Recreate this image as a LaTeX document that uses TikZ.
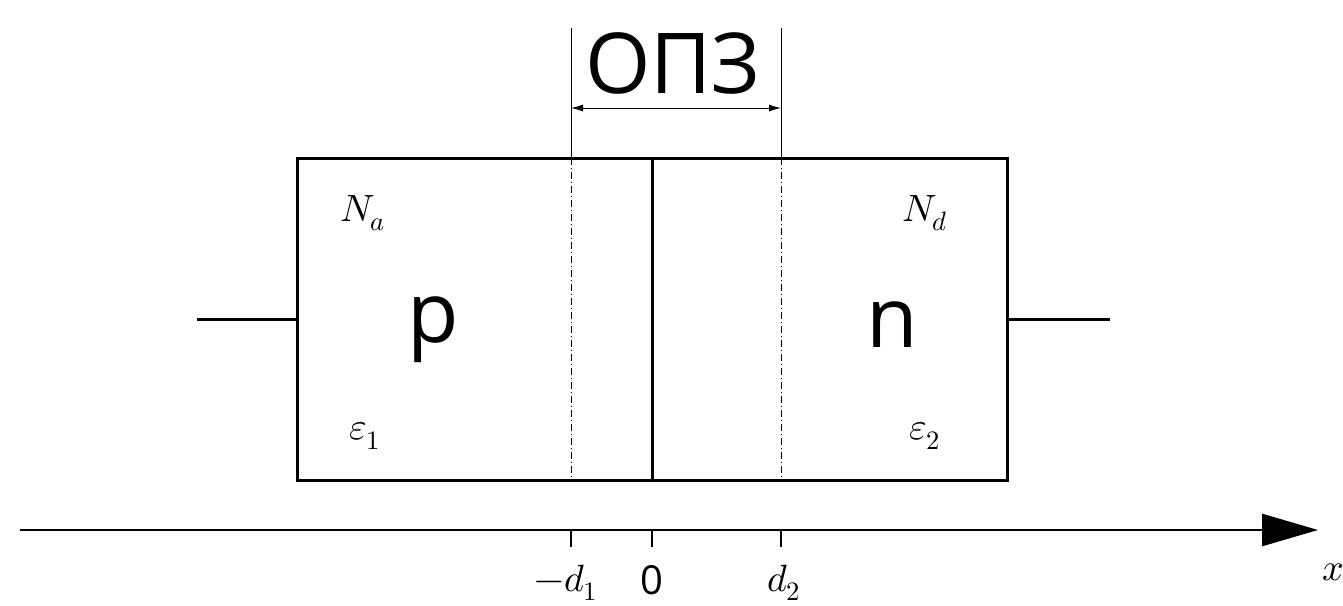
\documentclass[tikz,border=0pt]{standalone}
\usepackage{fontspec}
\usepackage{unicode-math}
\setsansfont{Open Sans}
\usetikzlibrary{arrows.meta}
\tikzset{
  thick line/.style={line width=3pt},
  thin line/.style={line width=0.9pt},
  dashdot line/.style={line width=0.8pt, dash pattern=on 7pt off 3pt on 1pt off 3pt},
  big label/.style={font=\sffamily\fontsize{84}{90}\selectfont, inner sep=0pt},
  math label/.style={font=\fontsize{38}{44}\selectfont, inner sep=0pt},
  axis label/.style={font=\fontsize{38}{44}\selectfont, inner sep=0pt, anchor=base},
}
\begin{document}
\begin{tikzpicture}[x=1pt,y=-1pt]
\useasboundingbox (0,0) rectangle (1343,605);
% box corners
\coordinate (TL) at (297,158);
\coordinate (TR) at (1007,158);
\coordinate (BL) at (297,480);
\coordinate (BR) at (1007,480);
\coordinate (MT) at (652,158);
\coordinate (MB) at (652,480);
\draw[thick line] (TL) rectangle (BR);
\draw[thick line] (MT) -- (MB);
% leads
\coordinate (LL) at (197,319);
\coordinate (LR) at (297,319);
\coordinate (RL) at (1007,319);
\coordinate (RR) at (1110,319);
\draw[thick line] (LL) -- (LR);
\draw[thick line] (RL) -- (RR);
% depletion boundaries
\coordinate (D1T) at (571,28);
\coordinate (D1B) at (571,158);
\coordinate (D2T) at (781,28);
\coordinate (D2B) at (781,158);
\coordinate (D1E) at (571,480);
\coordinate (D2E) at (781,480);
\draw[thin line] (D1T) -- (D1B);
\draw[thin line] (D2T) -- (D2B);
\draw[dashdot line] (D1B) -- (D1E);
\draw[dashdot line] (D2B) -- (D2E);
\coordinate (A1) at (571,108);
\coordinate (A2) at (781,108);
\draw[thin line, {Latex[length=12pt,width=7pt]}-{Latex[length=12pt,width=7pt]}] (A1) -- (A2);
\node[big label] (opz) at (673,63) {ОПЗ};
% labels in box
\node[big label] (p) at (433,330) {p};
\node[big label] (n) at (892,325) {n};
\node[math label] (Na) at (363,213) {$N_a$};
\node[math label] (Nd) at (925,213) {$N_d$};
\node[math label] (e1) at (365,436) {$\varepsilon_1$};
\node[math label] (e2) at (925,436) {$\varepsilon_2$};
% axis
\coordinate (X0) at (20,530);
\coordinate (X1) at (1318,530);
\draw[line width=2.8pt, -{Triangle[length=56pt,width=32pt]}] (X0) -- (X1);
\foreach \xx/\nm in {571/t1,652/t0,781/t2}{
  \coordinate (\nm) at (\xx,530);
  \draw[line width=1.2pt] (\nm) -- ++(0,17);
}
\node[axis label] (lm) at (566,591) {$-d_1$};
\node[axis label, font=\sffamily\fontsize{40}{44}\selectfont] (l0) at (652,594) {0};
\node[axis label] (l2) at (784,591) {$d_2$};
\node[axis label] (lx) at (1333,580) {$x$};
\end{tikzpicture}
\end{document}
